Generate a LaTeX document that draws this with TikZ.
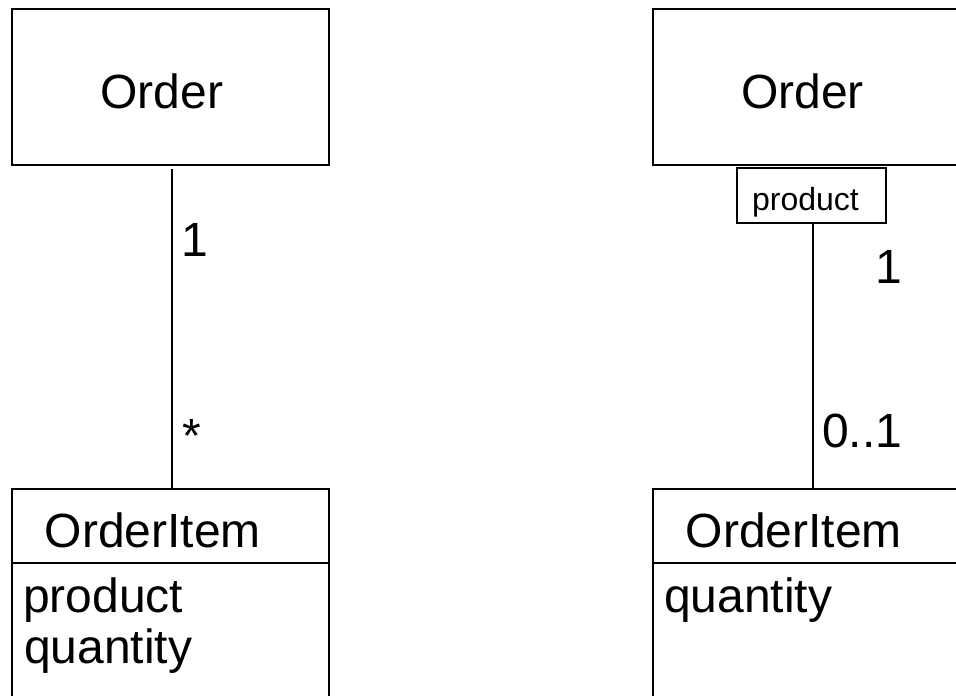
\documentclass[tikz,border=0pt]{standalone}
\usepackage{fontspec}
\setmainfont{Liberation Sans}
\begin{document}
\begin{tikzpicture}[x=1pt,y=-1pt,
  classbox/.style={draw=black,line width=2pt,rectangle,inner sep=0pt},
  qualbox/.style={draw=black,line width=1.8pt,rectangle,inner sep=0pt,
    minimum width=149pt,minimum height=55pt},
  assoc/.style={draw=black,line width=2pt},
  bigtext/.style={inner sep=0pt,font=\fontsize{48}{55}\selectfont},
  multtext/.style={inner sep=0pt,anchor=base west,font=\fontsize{48}{55}\selectfont},
  smalltext/.style={inner sep=0pt,font=\fontsize{32}{37}\selectfont}]
\useasboundingbox (0,0) rectangle (956,696);
\clip (0,0) rectangle (956,696);

% left diagram: plain association with multiplicities
\node[classbox,minimum width=317pt,minimum height=156pt] (orderA) at (170.5,87) {};
\node[bigtext,anchor=base] (orderAname) at (162,108) {Order};
\node[classbox,minimum width=317pt,minimum height=240pt] (itemA) at (170.5,609) {};
\draw[line width=2pt] (itemA.west |- 0,563) coordinate (divA1) -- (itemA.east |- 0,563) coordinate (divA2);
\node[bigtext,anchor=base west] (itemAname) at (44.5,547) {OrderItem};
\node[bigtext,anchor=base west] (itemAattr1) at (23,612) {product};
\node[bigtext,anchor=base west] (itemAattr2) at (24,663) {quantity};
\draw[assoc,shorten <=3pt,transform canvas={xshift=1.5pt}] (orderA.south) -- (itemA.north);
\node[multtext] (multA1) at (181,256) {1};
\node[multtext] (multA2) at (182,452) {*};

% right diagram: qualified association
\node[classbox,minimum width=317pt,minimum height=156pt] (orderB) at (811.5,87) {};
\node[bigtext,anchor=base] (orderBname) at (802.5,108) {Order};
\node[qualbox] (qual) at (811.5,195.5) {};
\node[smalltext,anchor=base] (qualname) at (805.5,210) {product};
\node[classbox,minimum width=317pt,minimum height=240pt] (itemB) at (811.5,609) {};
\draw[line width=2pt] (itemB.west |- 0,563) coordinate (divB1) -- (itemB.east |- 0,563) coordinate (divB2);
\node[bigtext,anchor=base west] (itemBname) at (685.5,547) {OrderItem};
\node[bigtext,anchor=base west] (itemBattr) at (664,612) {quantity};
\draw[assoc,transform canvas={xshift=1.5pt}] (qual.south) -- (itemB.north);
\node[multtext] (multB1) at (875,283) {1};
\node[multtext] (multB2) at (822,447) {0..1};
\end{tikzpicture}
\end{document}
